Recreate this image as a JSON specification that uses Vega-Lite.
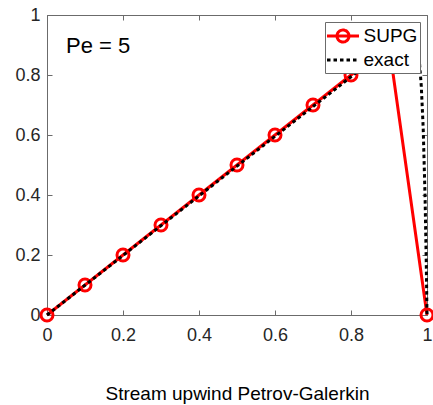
{
  "$schema": "https://vega.github.io/schema/vega-lite/v6.json",
  "autosize": "none",
  "width": 380,
  "height": 300,
  "padding": {"left": 47, "top": 15, "right": 6, "bottom": 90},
  "background": "white",
  "config": {
    "font": "Liberation Sans",
    "view": {"stroke": "#6b6b6b", "strokeWidth": 1},
    "axis": {
      "grid": false,
      "domainColor": "#6b6b6b",
      "tickColor": "#6b6b6b",
      "labelColor": "#262626",
      "labelFont": "Liberation Sans",
      "labelFontSize": 18,
      "tickSize": -5,
      "titleFont": "Liberation Sans",
      "titleFontSize": 19,
      "titleFontWeight": "normal",
      "titleColor": "#000000"
    }
  },
  "datasets": {
    "supg": [
      {"x": 0.0, "y": 0.0, "series": "SUPG"},
      {"x": 0.1, "y": 0.1, "series": "SUPG"},
      {"x": 0.2, "y": 0.2, "series": "SUPG"},
      {"x": 0.3, "y": 0.3, "series": "SUPG"},
      {"x": 0.4, "y": 0.4, "series": "SUPG"},
      {"x": 0.5, "y": 0.5, "series": "SUPG"},
      {"x": 0.6, "y": 0.6, "series": "SUPG"},
      {"x": 0.7, "y": 0.7, "series": "SUPG"},
      {"x": 0.8, "y": 0.8, "series": "SUPG"},
      {"x": 0.9, "y": 0.9, "series": "SUPG"},
      {"x": 1.0, "y": 0.0, "series": "SUPG"}
    ],
    "exact": [
      {"x": 0.0, "y": 0.0, "series": "exact"},
      {"x": 0.95, "y": 0.943, "series": "exact"},
      {"x": 0.97, "y": 0.92, "series": "exact"},
      {"x": 0.98, "y": 0.845, "series": "exact"},
      {"x": 0.985, "y": 0.762, "series": "exact"},
      {"x": 0.99, "y": 0.622, "series": "exact"},
      {"x": 0.995, "y": 0.388, "series": "exact"},
      {"x": 0.998, "y": 0.179, "series": "exact"},
      {"x": 1.0, "y": 0.0, "series": "exact"}
    ],
    "note": [{"label": "Pe = 5"}]
  },
  "resolve": {"axis": {"x": "independent", "y": "independent"}},
  "layer": [
    {
      "data": {"name": "supg"},
      "mark": {"type": "line", "strokeWidth": 3},
      "encoding": {
        "x": {
          "field": "x", "type": "quantitative",
          "scale": {"domain": [0, 1], "nice": false},
          "axis": {
            "orient": "bottom",
            "values": [0, 0.2, 0.4, 0.6, 0.8, 1],
            "format": ".1~f",
            "labelPadding": 16,
            "labelFlush": false,
            "labelOverlap": false,
            "title": "Stream upwind Petrov-Galerkin",
            "titlePadding": 40
          }
        },
        "y": {
          "field": "y", "type": "quantitative",
          "scale": {"domain": [0, 1], "nice": false},
          "axis": {
            "orient": "left",
            "values": [0, 0.2, 0.4, 0.6, 0.8, 1],
            "format": ".1~f",
            "labelPadding": 12,
            "labelFlush": false,
            "labelOverlap": false,
            "title": null
          }
        },
        "color": {
          "field": "series", "type": "nominal",
          "scale": {"domain": ["SUPG", "exact"], "range": ["#ff0000", "#000000"]},
          "legend": {
            "title": null,
            "orient": "top-right",
            "offset": 7,
            "fillColor": "white",
            "strokeColor": "#6b6b6b",
            "padding": 2.5,
            "rowPadding": 0,
            "symbolOffset": 4,
            "labelFont": "Liberation Sans",
            "labelFontSize": 19,
            "labelColor": "#000000",
            "labelOffset": 9,
            "symbolSize": 400,
            "symbolStrokeWidth": 3,
            "encode": {
              "symbols": {
                "update": {
                  "shape": [
                    {"test": "datum.value === 'SUPG'", "value": "M-1.6,0H-0.6M0.6,0H1.6M0.6,0A0.6,0.6 0 1,1 -0.6,0A0.6,0.6 0 1,1 0.6,0M-0.6,0H0.6"},
                    {"value": "M-1.6,0H1.6"}
                  ],
                  "fill": {"value": "transparent"},
                  "fillOpacity": {"value": 0},
                  "strokeWidth": {"value": 3},
                  "strokeDash": [
                    {"test": "datum.value === 'exact'", "value": [3.5, 3]},
                    {"value": [1, 0]}
                  ],
                  "stroke": [
                    {"test": "datum.value === 'exact'", "value": "#000000"},
                    {"value": "#ff0000"}
                  ],
                  "opacity": {"value": 1}
                }
              }
            }
          }
        }
      }
    },
    {
      "data": {"name": "supg"},
      "mark": {"type": "point", "shape": "circle", "filled": false, "size": 144, "strokeWidth": 3, "opacity": 1},
      "encoding": {
        "x": {
          "field": "x", "type": "quantitative",
          "axis": {"orient": "top", "values": [0, 0.2, 0.4, 0.6, 0.8, 1], "labels": false, "domain": false, "title": null}
        },
        "y": {
          "field": "y", "type": "quantitative",
          "axis": {"orient": "right", "values": [0, 0.2, 0.4, 0.6, 0.8, 1], "labels": false, "domain": false, "title": null}
        },
        "color": {"field": "series", "type": "nominal"}
      }
    },
    {
      "data": {"name": "exact"},
      "mark": {"type": "line", "strokeWidth": 3, "strokeDash": [3.5, 3]},
      "encoding": {
        "x": {"field": "x", "type": "quantitative", "axis": null},
        "y": {"field": "y", "type": "quantitative", "axis": null},
        "color": {"field": "series", "type": "nominal"}
      }
    },
    {
      "data": {"name": "note"},
      "mark": {"type": "text", "align": "left", "baseline": "alphabetic", "font": "Liberation Sans", "fontSize": 22, "color": "#000000"},
      "encoding": {
        "x": {"datum": 0.05, "type": "quantitative", "axis": null},
        "y": {"datum": 0.873, "type": "quantitative", "axis": null},
        "text": {"field": "label"}
      }
    }
  ]
}
